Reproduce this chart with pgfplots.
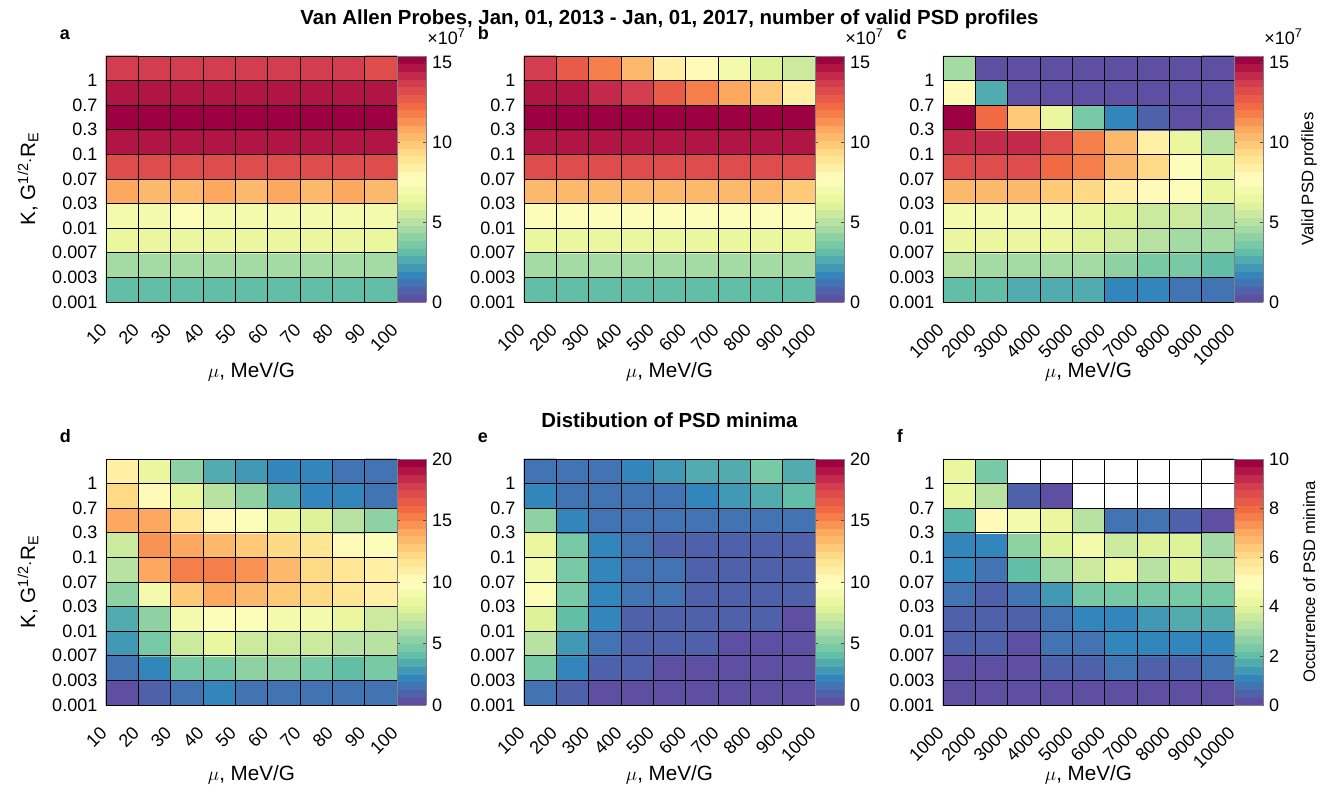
\documentclass[border=0pt]{standalone}
\usepackage{pgfplots}
\pgfplotsset{compat=1.18}
\usepackage{fontspec}
\setmainfont{Liberation Sans}
\pgfplotsset{colormap={spec}{rgb255=(94,79,162) rgb255=(50,136,189) rgb255=(102,194,165) rgb255=(171,221,164) rgb255=(230,245,152) rgb255=(255,255,191) rgb255=(254,224,139) rgb255=(253,174,97) rgb255=(244,109,67) rgb255=(213,62,79) rgb255=(158,1,66)}}
\pgfplotsset{colormap={specd}{samples of colormap=(32 of spec)}}
\newcommand\tf{\fontsize{13.5}{15}\selectfont}
\newcommand\cf{\fontsize{12.5}{14}\selectfont}
\newcommand\lf{\fontsize{15.5}{17}\selectfont}
\pgfplotsset{hm/.style={
  scale only axis, width=218.25pt, height=184.5pt, anchor=north west,
  xmin=-0.5, xmax=8.5, ymin=-0.5, ymax=9.5,
  xtick={-0.5,0.5,1.5,2.5,3.5,4.5,5.5,6.5,7.5,8.5},
  ytick={-0.5,0.5,1.5,2.5,3.5,4.5,5.5,6.5,7.5,8.5},
  yticklabels={0.001,0.003,0.007,0.01,0.03,0.07,0.1,0.3,0.7,1},
  major tick length=0pt,
  grid=major, major grid style={black, line width=0.7pt},
  axis on top, clip=false,
  axis line style={black, line width=0.7pt},
  xticklabel style={xshift=0.6pt, yshift=-16.3pt, rotate=45, anchor=east, font=\tf},
  yticklabel style={font=\tf, xshift=-3pt},
  xlabel={$\mu$, MeV/G},
  xlabel style={at={(axis description cs:0.5,-0.285)}, anchor=center, font=\lf},
  ylabel style={at={(axis description cs:-0.268,0.5)}, anchor=center, font=\lf},
  colormap name=specd, colormap access=piecewise constant,
  colorbar,
  colorbar style={at={(parent axis.north east)}, anchor=north west, xshift=-0.3cm, width=21.75pt,
    major tick length=2pt, tick style={black!70},
    axis line style={black!50, line width=0.5pt},
    yticklabel style={font=\tf, /pgf/number format/assume math mode=true, xshift=1pt},
    ylabel style={at={(axis description cs:2.59,0.5)}, anchor=center, font=\cf}},
}}
\pgfplotsset{topcb/.style={point meta min=0, point meta max=15.4,
  colorbar style={ytick={0,5,10,15}}}}
\pgfplotsset{ttl/.style={title style={at={(axis description cs:0.5,1)}, anchor=base, yshift=17.5pt, font=\bfseries\fontsize{15.3}{17}\selectfont}}}
\newcommand\panel[1]{\node[anchor=base west, font=\bfseries\fontsize{13.5}{15}\selectfont] at (axis description cs:-0.175,1.069) {#1};}
\newcommand\xten{\node[anchor=base west, font=\tf] at (axis description cs:1.088,1.045) {×10\textsuperscript{7}};}
\begin{document}
\begin{tikzpicture}
\path[use as bounding box] (0,0) rectangle (997.5pt,595.5pt);
% ---------------- a
\begin{axis}[hm, topcb, at={(79.5pt,553.5pt)},
  xticklabels={10,20,30,40,50,60,70,80,90,100},
  ylabel={K, G\textsuperscript{1/2}$\cdot$R\textsubscript{E}}]
\addplot[matrix plot*, mesh/cols=9, point meta=explicit] coordinates {
(0,0)[3.2] (1,0)[3.2] (2,0)[3.2] (3,0)[3.2] (4,0)[3.2] (5,0)[3.2] (6,0)[3.2] (7,0)[3.2] (8,0)[3.2]
(0,1)[4.8] (1,1)[4.8] (2,1)[4.8] (3,1)[4.8] (4,1)[4.8] (5,1)[4.8] (6,1)[4.8] (7,1)[4.8] (8,1)[4.8]
(0,2)[6.5] (1,2)[6.5] (2,2)[6.5] (3,2)[6.5] (4,2)[6.5] (5,2)[6.5] (6,2)[6.5] (7,2)[6.5] (8,2)[6.5]
(0,3)[7.0] (1,3)[7.2] (2,3)[7.3] (3,3)[7.2] (4,3)[7.2] (5,3)[7.2] (6,3)[7.2] (7,3)[7.2] (8,3)[7.2]
(0,4)[10.6] (1,4)[10.4] (2,4)[10.2] (3,4)[10.6] (4,4)[10.5] (5,4)[10.6] (6,4)[10.5] (7,4)[10.6] (8,4)[10.5]
(0,5)[13.2] (1,5)[13.2] (2,5)[13.2] (3,5)[13.2] (4,5)[13.2] (5,5)[13.2] (6,5)[13.2] (7,5)[13.2] (8,5)[13.2]
(0,6)[14.6] (1,6)[14.6] (2,6)[14.6] (3,6)[14.6] (4,6)[14.6] (5,6)[14.6] (6,6)[14.6] (7,6)[14.6] (8,6)[14.6]
(0,7)[15.3] (1,7)[15.3] (2,7)[15.3] (3,7)[15.3] (4,7)[15.3] (5,7)[15.3] (6,7)[15.3] (7,7)[15.3] (8,7)[15.3]
(0,8)[14.6] (1,8)[14.6] (2,8)[14.6] (3,8)[14.6] (4,8)[14.6] (5,8)[14.6] (6,8)[14.6] (7,8)[14.6] (8,8)[14.6]
(0,9)[13.9] (1,9)[13.9] (2,9)[13.9] (3,9)[13.9] (4,9)[13.9] (5,9)[13.9] (6,9)[13.9] (7,9)[13.9] (8,9)[13.3]
};
\panel{a}
\xten
\end{axis}
% ---------------- b
\begin{axis}[hm, topcb, ttl, at={(393pt,553.5pt)},
  xticklabels={100,200,300,400,500,600,700,800,900,1000},
  title={Van Allen Probes, Jan, 01, 2013 - Jan, 01, 2017, number of valid PSD profiles}]
\addplot[matrix plot*, mesh/cols=9, point meta=explicit] coordinates {
(0,0)[3.2] (1,0)[3.2] (2,0)[3.2] (3,0)[3.2] (4,0)[3.2] (5,0)[3.2] (6,0)[3.2] (7,0)[3.2] (8,0)[3.2]
(0,1)[4.8] (1,1)[4.8] (2,1)[4.8] (3,1)[4.8] (4,1)[4.8] (5,1)[4.8] (6,1)[4.8] (7,1)[4.8] (8,1)[4.8]
(0,2)[6.4] (1,2)[6.4] (2,2)[6.4] (3,2)[6.4] (4,2)[6.4] (5,2)[6.4] (6,2)[6.4] (7,2)[6.4] (8,2)[6.4]
(0,3)[7.3] (1,3)[7.3] (2,3)[7.3] (3,3)[7.3] (4,3)[7.3] (5,3)[7.3] (6,3)[7.3] (7,3)[7.3] (8,3)[7.3]
(0,4)[10.5] (1,4)[10.5] (2,4)[10.4] (3,4)[10.4] (4,4)[10.3] (5,4)[10.2] (6,4)[10.2] (7,4)[10.2] (8,4)[10.1]
(0,5)[13.2] (1,5)[13.2] (2,5)[13.2] (3,5)[13.2] (4,5)[13.2] (5,5)[13.2] (6,5)[13.2] (7,5)[13.2] (8,5)[13.2]
(0,6)[14.6] (1,6)[14.6] (2,6)[14.6] (3,6)[14.6] (4,6)[14.6] (5,6)[14.6] (6,6)[14.6] (7,6)[14.6] (8,6)[14.5]
(0,7)[15.3] (1,7)[15.3] (2,7)[15.3] (3,7)[15.3] (4,7)[15.3] (5,7)[15.3] (6,7)[15.3] (7,7)[15.3] (8,7)[15.3]
(0,8)[14.6] (1,8)[14.5] (2,8)[14.2] (3,8)[13.7] (4,8)[12.6] (5,8)[11.9] (6,8)[10.8] (7,8)[9.7] (8,8)[8.6]
(0,9)[13.7] (1,9)[12.6] (2,9)[11.6] (3,9)[10.2] (4,9)[8.6] (5,9)[7.7] (6,9)[6.8] (7,9)[6.2] (8,9)[5.4]
};
\panel{b}
\xten
\end{axis}
% ---------------- c
\begin{axis}[hm, topcb, at={(707.25pt,553.5pt)},
  xticklabels={1000,2000,3000,4000,5000,6000,7000,8000,9000,10000},
  colorbar style={ylabel={Valid PSD profiles}}]
\addplot[matrix plot*, mesh/cols=9, point meta=explicit] coordinates {
(0,0)[3.1] (1,0)[3.0] (2,0)[2.7] (3,0)[2.7] (4,0)[2.6] (5,0)[1.7] (6,0)[1.6] (7,0)[1.2] (8,0)[1.4]
(0,1)[4.9] (1,1)[4.8] (2,1)[4.5] (3,1)[4.4] (4,1)[4.4] (5,1)[3.9] (6,1)[3.6] (7,1)[3.4] (8,1)[3.1]
(0,2)[6.5] (1,2)[6.4] (2,2)[6.3] (3,2)[6.3] (4,2)[6.2] (5,2)[5.6] (6,2)[5.1] (7,2)[4.8] (8,2)[4.7]
(0,3)[7.1] (1,3)[7.1] (2,3)[7.0] (3,3)[6.9] (4,3)[6.6] (5,3)[6.2] (6,3)[5.7] (7,3)[5.5] (8,3)[5.1]
(0,4)[10.4] (1,4)[10.4] (2,4)[10.3] (3,4)[10.1] (4,4)[9.6] (5,4)[8.6] (6,4)[8.0] (7,4)[7.5] (8,4)[6.5]
(0,5)[13.4] (1,5)[13.4] (2,5)[13.2] (3,5)[12.5] (4,5)[12.0] (5,5)[10.4] (6,5)[9.2] (7,5)[7.4] (8,5)[6.5]
(0,6)[14.3] (1,6)[14.2] (2,6)[14.0] (3,6)[13.4] (4,6)[12.0] (5,6)[10.2] (6,6)[8.5] (7,6)[6.6] (8,6)[5.2]
(0,7)[15.4] (1,7)[12.4] (2,7)[9.7] (3,7)[6.5] (4,7)[3.4] (5,7)[1.5] (6,7)[0.9] (7,7)[0.3] (8,7)[0.3]
(0,8)[7.9] (1,8)[2.8] (2,8)[0.3] (3,8)[0.3] (4,8)[0.3] (5,8)[0.3] (6,8)[0.3] (7,8)[0.3] (8,8)[0.3]
(0,9)[4.6] (1,9)[0.3] (2,9)[0.3] (3,9)[0.3] (4,9)[0.3] (5,9)[0.3] (6,9)[0.3] (7,9)[0.3] (8,9)[0.3]
};
\panel{c}
\xten
\end{axis}
% ---------------- d
\begin{axis}[hm, at={(79.5pt,251.25pt)}, point meta min=0, point meta max=20,
  colorbar style={ytick={0,5,10,15,20}},
  xticklabels={10,20,30,40,50,60,70,80,90,100},
  ylabel={K, G\textsuperscript{1/2}$\cdot$R\textsubscript{E}}]
\addplot[matrix plot*, mesh/cols=9, point meta=explicit] coordinates {
(0,0)[0.6] (1,0)[0.8] (2,0)[1.6] (3,0)[2.0] (4,0)[1.6] (5,0)[1.6] (6,0)[1.6] (7,0)[1.6] (8,0)[1.6]
(0,1)[1.4] (1,1)[2.0] (2,1)[4.6] (3,1)[4.6] (4,1)[5.0] (5,1)[5.2] (6,1)[4.6] (7,1)[4.2] (8,1)[4.4]
(0,2)[2.6] (1,2)[4.4] (2,2)[7.4] (3,2)[8.4] (4,2)[7.2] (5,2)[7.2] (6,2)[7.0] (7,2)[6.4] (8,2)[6.6]
(0,3)[3.6] (1,3)[5.0] (2,3)[8.8] (3,3)[9.4] (4,3)[9.6] (5,3)[9.0] (6,3)[8.8] (7,3)[8.2] (8,3)[7.2]
(0,4)[5.4] (1,4)[9.2] (2,4)[12.8] (3,4)[13.8] (4,4)[13.2] (5,4)[13.0] (6,4)[12.2] (7,4)[11.6] (8,4)[11.0]
(0,5)[6.4] (1,5)[14.0] (2,5)[15.2] (3,5)[15.4] (4,5)[14.4] (5,5)[13.2] (6,5)[12.0] (7,5)[11.4] (8,5)[10.8]
(0,6)[7.2] (1,6)[14.4] (2,6)[14.2] (3,6)[13.6] (4,6)[12.8] (5,6)[12.4] (6,6)[11.4] (7,6)[10.2] (8,6)[9.6]
(0,7)[14.0] (1,7)[13.8] (2,7)[11.6] (3,7)[10.4] (4,7)[9.4] (5,7)[8.4] (6,7)[7.6] (7,7)[6.6] (8,7)[5.4]
(0,8)[12.0] (1,8)[10.4] (2,8)[8.4] (3,8)[6.4] (4,8)[5.0] (5,8)[3.6] (6,8)[2.4] (7,8)[2.4] (8,8)[1.8]
(0,9)[10.8] (1,9)[8.4] (2,9)[5.4] (3,9)[3.6] (4,9)[2.6] (5,9)[2.0] (6,9)[2.0] (7,9)[1.4] (8,9)[1.4]
};
\panel{d}
\end{axis}
% ---------------- e
\begin{axis}[hm, ttl, at={(393pt,251.25pt)}, point meta min=0, point meta max=20,
  colorbar style={ytick={0,5,10,15,20}},
  xticklabels={100,200,300,400,500,600,700,800,900,1000},
  title={Distibution of PSD minima}]
\addplot[matrix plot*, mesh/cols=9, point meta=explicit] coordinates {
(0,0)[1.6] (1,0)[1.0] (2,0)[0.2] (3,0)[0.2] (4,0)[0.2] (5,0)[0.2] (6,0)[0.2] (7,0)[0.2] (8,0)[0.2]
(0,1)[4.8] (1,1)[2.0] (2,1)[1.0] (3,1)[1.0] (4,1)[0.4] (5,1)[0.4] (6,1)[0.4] (7,1)[0.4] (8,1)[0.4]
(0,2)[6.6] (1,2)[2.8] (2,2)[1.4] (3,2)[1.0] (4,2)[1.0] (5,2)[1.0] (6,2)[0.4] (7,2)[0.4] (8,2)[0.4]
(0,3)[7.6] (1,3)[3.8] (2,3)[2.0] (3,3)[1.0] (4,3)[1.0] (5,3)[1.0] (6,3)[1.0] (7,3)[1.0] (8,3)[0.4]
(0,4)[9.8] (1,4)[4.6] (2,4)[2.0] (3,4)[1.6] (4,4)[1.6] (5,4)[1.0] (6,4)[1.0] (7,4)[1.0] (8,4)[1.0]
(0,5)[9.2] (1,5)[4.6] (2,5)[2.0] (3,5)[1.6] (4,5)[1.6] (5,5)[1.0] (6,5)[1.0] (7,5)[1.0] (8,5)[1.0]
(0,6)[8.6] (1,6)[4.8] (2,6)[2.0] (3,6)[1.6] (4,6)[1.0] (5,6)[1.0] (6,6)[1.0] (7,6)[1.0] (8,6)[1.0]
(0,7)[5.0] (1,7)[2.0] (2,7)[1.4] (3,7)[1.4] (4,7)[1.4] (5,7)[1.4] (6,7)[1.4] (7,7)[1.4] (8,7)[1.4]
(0,8)[2.0] (1,8)[1.4] (2,8)[1.4] (3,8)[1.4] (4,8)[1.4] (5,8)[2.4] (6,8)[2.6] (7,8)[3.6] (8,8)[3.8]
(0,9)[1.4] (1,9)[1.4] (2,9)[1.4] (3,9)[2.0] (4,9)[2.6] (5,9)[3.4] (6,9)[3.4] (7,9)[4.4] (8,9)[3.6]
};
\panel{e}
\end{axis}
% ---------------- f
\begin{axis}[hm, at={(707.25pt,251.25pt)}, point meta min=0, point meta max=10,
  colorbar style={ytick={0,2,4,6,8,10}, ylabel={Occurrence of PSD minima}},
  xticklabels={1000,2000,3000,4000,5000,6000,7000,8000,9000,10000}]
\addplot[matrix plot*, mesh/cols=9, point meta=explicit] coordinates {
(0,0)[0.1] (1,0)[0.1] (2,0)[0.1] (3,0)[0.1] (4,0)[0.1] (5,0)[0.1] (6,0)[0.1] (7,0)[0.1] (8,0)[0.1]
(0,1)[0.1] (1,1)[0.1] (2,1)[0.1] (3,1)[0.4] (4,1)[0.4] (5,1)[0.7] (6,1)[0.4] (7,1)[0.4] (8,1)[0.7]
(0,2)[0.4] (1,2)[0.4] (2,2)[0.1] (3,2)[0.7] (4,2)[0.7] (5,2)[1.0] (6,2)[1.0] (7,2)[1.0] (8,2)[1.0]
(0,3)[0.4] (1,3)[0.4] (2,3)[0.4] (3,3)[0.7] (4,3)[1.0] (5,3)[1.0] (6,3)[1.4] (7,3)[1.8] (8,3)[1.8]
(0,4)[0.7] (1,4)[0.4] (2,4)[0.7] (3,4)[1.4] (4,4)[2.3] (5,4)[2.4] (6,4)[2.3] (7,4)[2.4] (8,4)[2.3]
(0,5)[1.0] (1,5)[0.7] (2,5)[2.0] (3,5)[3.0] (4,5)[3.7] (5,5)[4.2] (6,5)[3.3] (7,5)[3.8] (8,5)[3.3]
(0,6)[1.0] (1,6)[1.0] (2,6)[2.7] (3,6)[4.0] (4,6)[4.5] (5,6)[3.6] (6,6)[3.8] (7,6)[4.0] (8,6)[3.0]
(0,7)[1.9] (1,7)[5.0] (2,7)[4.6] (3,7)[4.3] (4,7)[3.3] (5,7)[0.7] (6,7)[0.7] (7,7)[0.4] (8,7)[0.1]
(0,8)[4.3] (1,8)[3.2] (2,8)[0.4] (3,8)[0.1] (4,8)[0] (5,8)[0] (6,8)[0] (7,8)[0] (8,8)[0]
(0,9)[4.2] (1,9)[2.4] (2,9)[0] (3,9)[0] (4,9)[0] (5,9)[0] (6,9)[0] (7,9)[0] (8,9)[0]
};
\addplot[fill=white, draw=none, forget plot] coordinates {(1.5,9.5) (8.5,9.5) (8.5,7.5) (3.5,7.5) (3.5,8.5) (1.5,8.5)} -- cycle;
\panel{f}
\end{axis}
\end{tikzpicture}
\end{document}
